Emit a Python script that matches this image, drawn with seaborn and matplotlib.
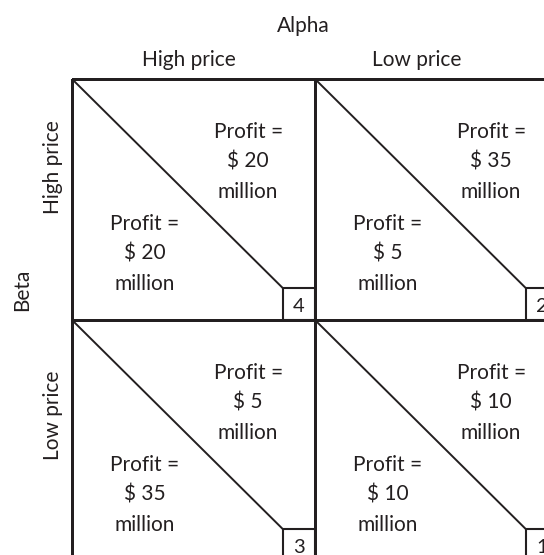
import numpy as np
import pandas as pd
import matplotlib
matplotlib.use("Agg")
import matplotlib.pyplot as plt
from matplotlib.patches import Rectangle
import seaborn as sns

# ---- data ----
alpha_strategies = ["High price", "Low price"]   # columns
beta_strategies = ["High price", "Low price"]    # rows
alpha_profit = [[20, 35], [5, 10]]   # upper-right triangle of each cell
beta_profit = [[20, 5], [35, 10]]    # lower-left triangle of each cell
outcome_rank = [[4, 2], [3, 1]]
player_col = "Alpha"
player_row = "Beta"

sns.set_theme(style="white")
plt.rcParams["font.family"] = ["Lato", "DejaVu Sans"]
INK = "#231f20"

fig = plt.figure(figsize=(5.44, 5.55), dpi=100)
ax = fig.add_axes([72 / 544, (555 - 561) / 555, 486 / 544, 482 / 555])

grid = pd.DataFrame(np.zeros((2, 2)), index=beta_strategies, columns=alpha_strategies)
sns.heatmap(grid, ax=ax, cmap=matplotlib.colors.ListedColormap(["white"]), cbar=False,
            linewidths=1.9, linecolor=INK, square=False)
for c in ax.collections:
    c.set_clip_on(False)
ax.set_xlim(0, 2)
ax.set_ylim(2, 0)
ax.set_xticks([])
ax.set_yticks([])
ax.set_xlabel("")
ax.set_ylabel("")
for s in ax.spines.values():
    s.set_visible(False)

box = 0.132
fs = 15
for i in range(2):
    for j in range(2):
        # diagonal from top-left to box corner
        ax.plot([j, j + 1 - box], [i, i + 1 - box], color=INK, lw=1.4,
                solid_capstyle="butt", clip_on=False)
        ax.add_patch(Rectangle((j + 1 - box, i + 1 - box), box, box, fill=False,
                               edgecolor=INK, lw=1.5, clip_on=False))
        ax.text(j + 1 - box / 2, i + 1 - box / 2 + 0.008, str(outcome_rank[i][j]),
                ha="center", va="center", fontsize=14.5, color=INK, clip_on=False)
        ax.text(j + 0.725, i + 0.344, f"Profit =\n$ {alpha_profit[i][j]}\nmillion",
                ha="center", va="center", fontsize=fs, color=INK, linespacing=1.65)
        ax.text(j + 0.30, i + 0.726, f"Profit =\n$ {beta_profit[i][j]}\nmillion",
                ha="center", va="center", fontsize=fs, color=INK, linespacing=1.65)

# headers
ax.text(0.95, -0.22, player_col, ha="center", va="center", fontsize=fs, color=INK, clip_on=False)
col_x = [0.48, 1.42]
for j, lab in enumerate(alpha_strategies):
    ax.text(col_x[j], -0.08, lab, ha="center", va="center", fontsize=fs, color=INK, clip_on=False)
row_y = [0.365, 1.394]
for i, lab in enumerate(beta_strategies):
    ax.text(-0.078, row_y[i], lab, ha="center", va="center", rotation=90, fontsize=fs,
            color=INK, clip_on=False)
ax.text(-0.206, 0.875, player_row, ha="center", va="center", rotation=90, fontsize=fs,
        color=INK, clip_on=False)

fig.savefig("out.png", dpi=100)
